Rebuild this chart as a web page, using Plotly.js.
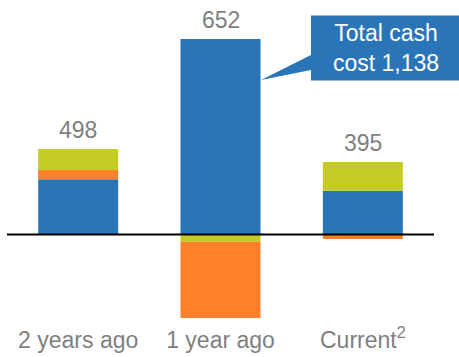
<!DOCTYPE html>
<html>
<head>
<meta charset="utf-8">
<script src="https://cdn.plot.ly/plotly-3.0.1.min.js"></script>
<style>html,body{margin:0;padding:0;background:#fff;}#chart{width:459px;height:357px;}</style>
</head>
<body>
<div id="chart"></div>
<script>
// Data
const categories = ['2 years ago', '1 year ago', 'Current<sup>2</sup>'];
const blueValues = [184, 652, 146];
const orangeValues = [31, -254, -15];
const yellowValues = [70, -24, 96];
const totalLabels = ['498', '652', '395'];
const calloutText = 'Total cash<br>cost 1,138';

const BLUE = '#2A75B8', ORANGE = '#FF7F2A', YELLOW = '#C4CC23', GREY = '#7F7F7F';
const FONT = '"Liberation Sans", Arial, sans-serif';

const W = 459, H = 357, L = 7, R = 25, T = 0, B = 37;
const plotW = W - L - R, plotH = H - T - B;
const yRange = [-285, 782];

function bar(name, y, color) {
  return {type: 'bar', name: name, x: categories, y: y,
    marker: {color: color, line: {width: 0}}, hoverinfo: 'skip', showlegend: false};
}
const traces = [
  bar('blue', blueValues, BLUE),
  bar('yellow-neg', yellowValues.map(v => v < 0 ? v : null), YELLOW),
  bar('orange', orangeValues, ORANGE),
  bar('yellow-pos', yellowValues.map(v => v >= 0 ? v : null), YELLOW)
];

const posSum = categories.map((c, i) =>
  [blueValues[i], orangeValues[i], yellowValues[i]].filter(v => v > 0).reduce((a, b) => a + b, 0));

const annotations = categories.map((c, i) => ({
  x: c, y: posSum[i], xref: 'x', yref: 'y', text: totalLabels[i], showarrow: false,
  yanchor: 'bottom', yshift: 4, font: {family: FONT, size: 23, color: GREY}
}));

// callout geometry in pixels -> paper coords
const px = x => (x - L) / plotW;
const py = y => (H - B - y) / plotH;
const pts = [[311, 15.5], [459, 15.5], [459, 80.5], [311, 80.5], [311, 70], [261, 80], [311, 55]];
const path = 'M' + pts.map(p => px(p[0]).toFixed(5) + ',' + py(p[1]).toFixed(5)).join(' L') + ' Z';

annotations.push({
  xref: 'paper', yref: 'paper', x: px(386), y: py(48), xanchor: 'center', yanchor: 'middle',
  text: calloutText, showarrow: false, align: 'center',
  font: {family: FONT, size: 23, color: '#FFFFFF'}
});

const layout = {
  width: W, height: H,
  margin: {l: L, r: R, t: T, b: B, pad: 0},
  paper_bgcolor: '#fff', plot_bgcolor: '#fff',
  barmode: 'relative', bargap: 0.438,
  xaxis: {type: 'category', showline: false, showgrid: false, zeroline: false, ticks: '',
    ticklabelstandoff: 4,
    tickfont: {family: FONT, size: 23, color: GREY}, fixedrange: true},
  yaxis: {visible: false, range: yRange, fixedrange: true},
  shapes: [
    {type: 'line', xref: 'paper', yref: 'y', x0: 0, x1: 1, y0: 0, y1: 0,
      line: {color: '#000', width: 2}, layer: 'above'},
    {type: 'path', xref: 'paper', yref: 'paper', path: path, fillcolor: BLUE,
      line: {width: 0}, layer: 'above'}
  ],
  annotations: annotations
};

Plotly.newPlot('chart', traces, layout, {displayModeBar: false, staticPlot: true});
</script>
</body>
</html>
